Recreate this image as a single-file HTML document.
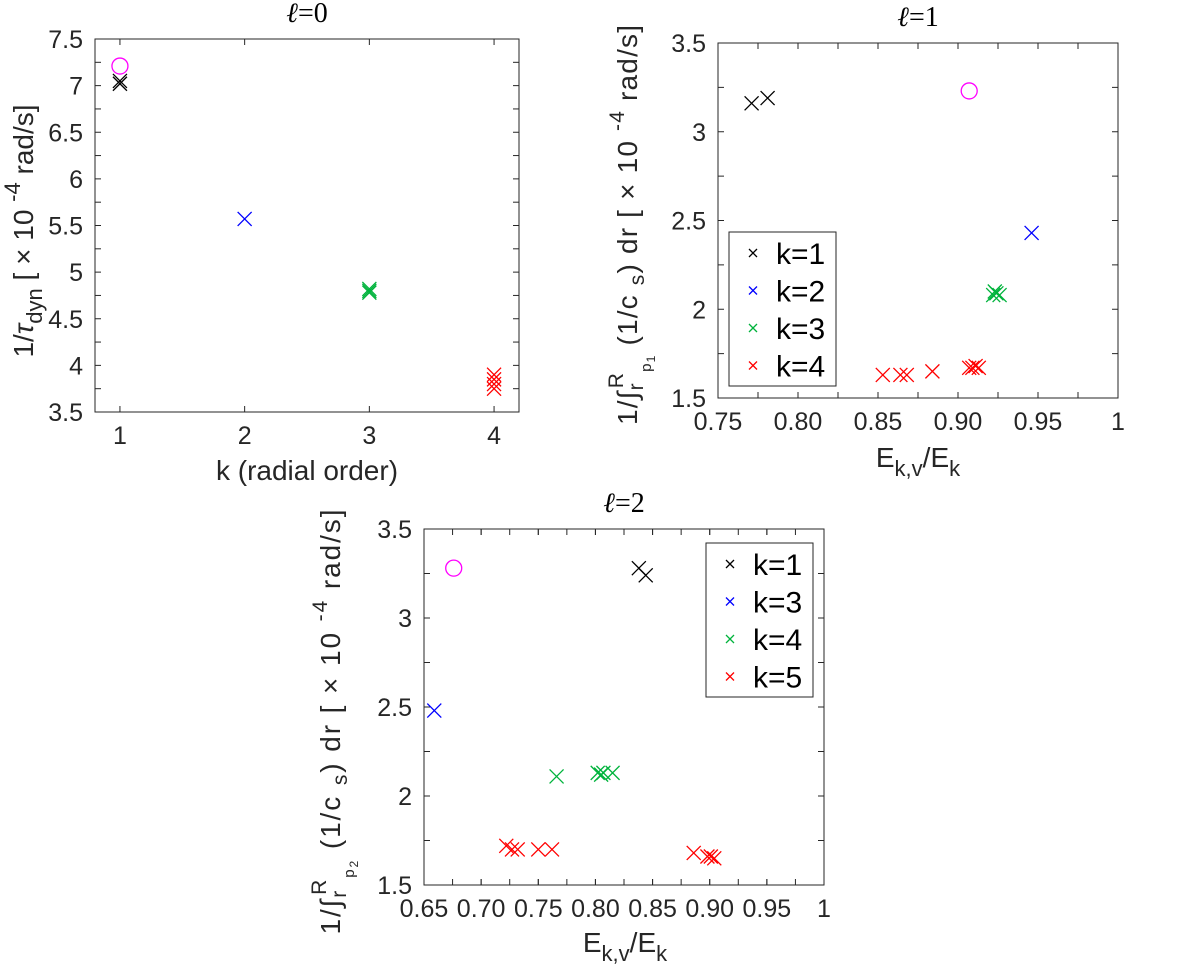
<!DOCTYPE html>
<html><head><meta charset="utf-8"><style>
body{margin:0;background:#fff;}
svg{display:block;font-family:"Liberation Sans",sans-serif;}
</style></head><body>
<svg id="fig" width="1200" height="973" viewBox="0 0 1200 973" xmlns="http://www.w3.org/2000/svg"></svg>
<script>
// ---- Panel l=0 data ----
const p0Cat = [1,1,2,3,3,3,4,4,4,4];
const p0Val = [7.02,7.05,5.57,4.78,4.80,4.82,3.75,3.80,3.85,3.90];
const p0Grp = [0,0,1,2,2,2,3,3,3,3];
const p0CircleX = [1];
const p0CircleY = [7.21];
const p0XTicks = [1,2,3,4];
const p0YTicks = [3.5,4,4.5,5,5.5,6,6.5,7,7.5];
// ---- Panel l=1 data ----
const p1X = [0.771,0.781,0.946,0.922,0.924,0.926,0.923,0.853,0.864,0.868,0.884,0.907,0.909,0.911,0.913];
const p1Y = [3.16,3.19,2.43,2.08,2.09,2.08,2.10,1.63,1.63,1.63,1.65,1.67,1.67,1.68,1.67];
const p1Grp = [0,0,1,2,2,2,2,3,3,3,3,3,3,3,3];
const p1CircleX = [0.907];
const p1CircleY = [3.23];
const p1Legend = ["k=1","k=2","k=3","k=4"];
const p1XTicks = [0.75,0.80,0.85,0.90,0.95,1];
const p1XLabels = ["0.75","0.80","0.85","0.90","0.95","1"];
const p1YTicks = [1.5,2,2.5,3,3.5];
// ---- Panel l=2 data ----
const p2X = [0.838,0.844,0.659,0.766,0.802,0.805,0.807,0.815,0.722,0.727,0.732,0.750,0.762,0.886,0.898,0.901,0.904];
const p2Y = [3.28,3.24,2.48,2.11,2.13,2.12,2.13,2.13,1.72,1.70,1.70,1.70,1.70,1.68,1.66,1.66,1.65];
const p2Grp = [0,0,1,2,2,2,2,2,3,3,3,3,3,3,3,3,3];
const p2CircleX = [0.676];
const p2CircleY = [3.28];
const p2Legend = ["k=1","k=3","k=4","k=5"];
const p2XTicks = [0.65,0.70,0.75,0.80,0.85,0.90,0.95,1];
const p2XLabels = ["0.65","0.70","0.75","0.80","0.85","0.90","0.95","1"];
const p2YTicks = [1.5,2,2.5,3,3.5];

const colors = ["#000000","#0000ff","#00b33c","#ff0000"];
const NS = "http://www.w3.org/2000/svg";
const svg = document.getElementById('fig');
function mk(tag, attrs, parent){
  const e = document.createElementNS(NS, tag);
  for (const k in attrs) e.setAttribute(k, attrs[k]);
  (parent||svg).appendChild(e);
  return e;
}
function cross(g, x, y, s, c){
  return mk('path',{d:`M${x-s},${y-s}L${x+s},${y+s}M${x-s},${y+s}L${x+s},${y-s}`,stroke:c,'stroke-width':1.3,fill:'none'},g);
}
function panel(o){
  const g = mk('g',{});
  
  
  const sx = v => o.x0 + (v-o.xmin)/(o.xmax-o.xmin)*(o.x1-o.x0);
  const sy = v => o.y1 - (v-o.ymin)/(o.ymax-o.ymin)*(o.y1-o.y0);
  const box = mk('rect',{x:o.x0,y:o.y0,width:o.x1-o.x0,height:o.y1-o.y0,fill:'#fff',stroke:'#262626','stroke-width':1},g);
  
  
  for (let v=o.ymin; v<=o.ymax+1e-9; v+=o.yminor){
    const y=sy(v);
    mk('line',{x1:o.x0,x2:o.x0+6,y1:y,y2:y,stroke:'#262626'},g);
    mk('line',{x1:o.x1,x2:o.x1-6,y1:y,y2:y,stroke:'#262626'},g);
  }
  if (o.xminor) for (let v=o.xmin; v<=o.xmax+1e-9; v+=o.xminor){
    const x=sx(v);
    mk('line',{x1:x,x2:x,y1:o.y1,y2:o.y1-6,stroke:'#262626'},g);
    mk('line',{x1:x,x2:x,y1:o.y0,y2:o.y0+6,stroke:'#262626'},g);
  }
  o.xticks.forEach((v,i)=>{
    const x=sx(v);
    mk('line',{x1:x,x2:x,y1:o.y1,y2:o.y1-6,stroke:'#262626'},g);
    mk('line',{x1:x,x2:x,y1:o.y0,y2:o.y0+6,stroke:'#262626'},g);
    const t=mk('text',{x:x,y:o.y1+32,'text-anchor':'middle','font-size':25,fill:'#262626'},g);
    t.textContent = o.xlabels ? o.xlabels[i] : String(v);
    
    
  });
  o.yticks.forEach(v=>{
    const y=sy(v);
    const t=mk('text',{x:o.x0-12,y:y+9,'text-anchor':'end','font-size':25,fill:'#262626'},g);
    t.textContent = String(v);
    
    
  });
  o.px.forEach((v,i)=>{
    const m = cross(g, sx(v), sy(o.py[i]), 7, colors[o.grp[i]]);
    
    
  });
  o.cx.forEach((v,i)=>{
    const c = mk('ellipse',{cx:sx(v),cy:sy(o.cy[i]),rx:8,ry:8,fill:'none',stroke:'#ff00ff','stroke-width':1.3},g);
    
    
  });
  const tt = mk('text',{x:(o.x0+o.x1)/2,y:o.y0-17,'text-anchor':'middle','font-size':28,'font-family':'Liberation Serif, serif',fill:'#000'},g);
  tt.innerHTML = '<tspan font-style="italic">ℓ</tspan>=' + o.title;
  
  
  if (o.legend){
    const lg = mk('g',{},g);
    
    
    mk('rect',{x:o.lx,y:o.ly,width:107,height:154,fill:'#fff',stroke:'#262626'},lg);
    o.legend.forEach((s,i)=>{
      const yy = o.ly+21+i*37.5;
      const m = cross(lg, o.lx+24, yy, 4, colors[i]);
      
      
      const t = mk('text',{x:o.lx+47,y:yy+11,'font-size':30,fill:'#000'},lg);
      t.textContent = s;
      
      
    });
  }
  return g;
}
panel({name:'panel-l0',x0:95,x1:519,y0:39,y1:412,xmin:0.8,xmax:4.2,ymin:3.5,ymax:7.5,yminor:0.25,xminor:0,
  xticks:p0XTicks,yticks:p0YTicks,px:p0Cat,py:p0Val,grp:p0Grp,cx:p0CircleX,cy:p0CircleY,title:'0'});
panel({name:'panel-l1',x0:718,x1:1118,y0:43,y1:398,xmin:0.75,xmax:1,ymin:1.5,ymax:3.5,yminor:0.25,xminor:0.025,
  xticks:p1XTicks,xlabels:p1XLabels,yticks:p1YTicks,px:p1X,py:p1Y,grp:p1Grp,cx:p1CircleX,cy:p1CircleY,title:'1',
  legend:p1Legend,lx:729,ly:232});
panel({name:'panel-l2',x0:424,x1:824,y0:529,y1:885,xmin:0.65,xmax:1,ymin:1.5,ymax:3.5,yminor:0.25,xminor:0.025,
  xticks:p2XTicks,xlabels:p2XLabels,yticks:p2YTicks,px:p2X,py:p2Y,grp:p2Grp,cx:p2CircleX,cy:p2CircleY,title:'2',
  legend:p2Legend,lx:706,ly:543});
</script>
<svg style="position:absolute;left:0;top:0" width="1200" height="973" xmlns="http://www.w3.org/2000/svg" font-family="Liberation Sans, sans-serif" fill="#262626">
  <text x="307" y="480" text-anchor="middle" font-size="28">k (radial order)</text>
  <text transform="translate(33,231) rotate(-90)" text-anchor="middle" font-size="28">1/<tspan font-style="italic">τ</tspan><tspan font-size="22" dy="9">dyn</tspan><tspan dy="-9">  [ × 10 </tspan><tspan font-size="22" dy="-13">-4</tspan><tspan dy="13">  rad/s]</tspan></text>
  <text x="918" y="467" text-anchor="middle" font-size="28">E<tspan font-size="22" dy="9">k,v</tspan><tspan dy="-9">/E</tspan><tspan font-size="22" dy="9">k</tspan></text>
  <text transform="translate(637,225) rotate(-90)" text-anchor="middle" font-size="28" textLength="400" lengthAdjust="spacing">1/∫<tspan font-size="21" dy="6">r</tspan><tspan font-size="21" dy="-20" dx="-6">R</tspan><tspan font-size="15" dy="28">p</tspan><tspan font-size="12" dy="4">1</tspan><tspan dy="-18">   (1/c </tspan><tspan font-size="21" dy="7">s</tspan><tspan dy="-7">) dr [ × 10 </tspan><tspan font-size="21" dy="-13">-4</tspan><tspan dy="13">  rad/s]</tspan></text>
  <text x="625" y="952" text-anchor="middle" font-size="28">E<tspan font-size="22" dy="9">k,v</tspan><tspan dy="-9">/E</tspan><tspan font-size="22" dy="9">k</tspan></text>
  <text transform="translate(340,722) rotate(-90)" text-anchor="middle" font-size="28" textLength="425" lengthAdjust="spacing">1/∫<tspan font-size="21" dy="6">r</tspan><tspan font-size="21" dy="-20" dx="-6">R</tspan><tspan font-size="15" dy="28">p</tspan><tspan font-size="12" dy="4">2</tspan><tspan dy="-18">   (1/c </tspan><tspan font-size="21" dy="7">s</tspan><tspan dy="-7">) dr [ × 10 </tspan><tspan font-size="21" dy="-13">-4</tspan><tspan dy="13">  rad/s]</tspan></text>
</svg>
</body></html>
